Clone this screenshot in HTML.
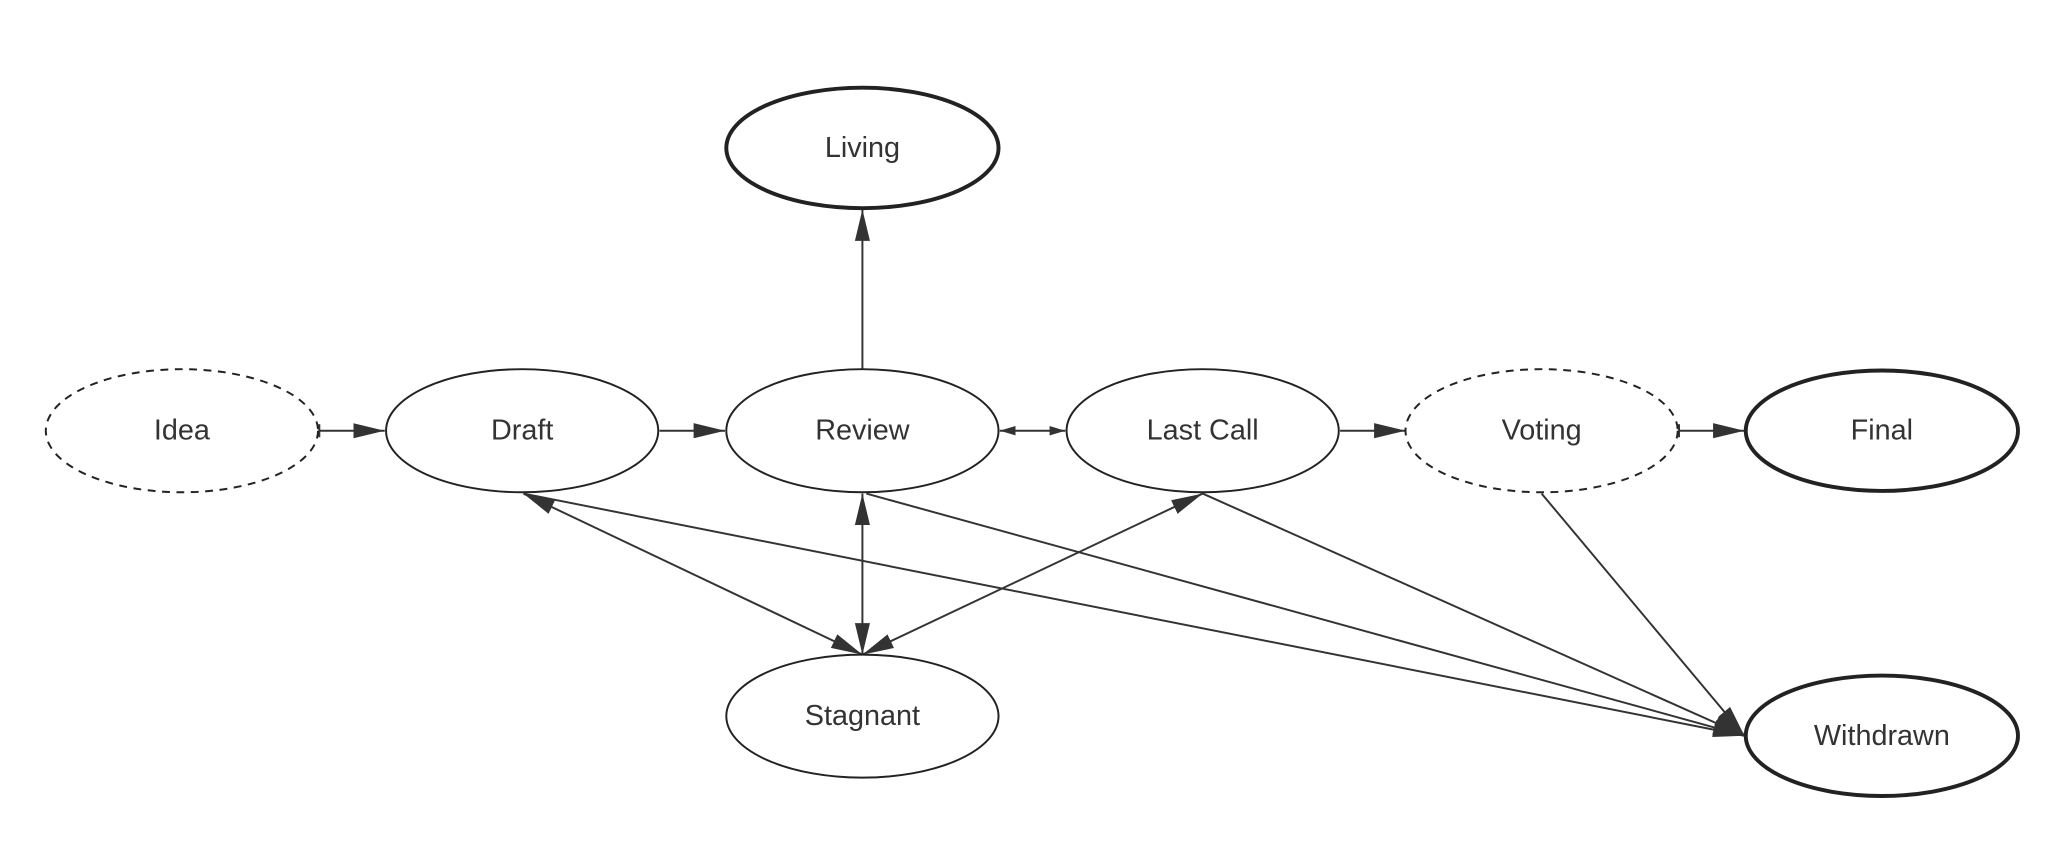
<!DOCTYPE html>
<html><head><meta charset="utf-8"><style>
html,body{margin:0;padding:0;background:#fff;}
svg{display:block;}
text{font-family:"Liberation Sans",sans-serif;font-size:22px;fill:#333;text-anchor:middle;dominant-baseline:central;}
</style></head><body>
<svg width="2052" height="868" viewBox="0 0 1568 663" preserveAspectRatio="none" xmlns="http://www.w3.org/2000/svg">
<defs>
<marker id="a" viewBox="0 0 10 10" refX="10" refY="5" markerWidth="24" markerHeight="24" markerUnits="userSpaceOnUse" orient="auto-start-reverse"><path d="M0,2.6 L10,5 L0,7.4 z" fill="#333"/></marker>
<marker id="s" viewBox="0 0 10 10" refX="10" refY="5" markerWidth="12" markerHeight="12" markerUnits="userSpaceOnUse" orient="auto-start-reverse"><path d="M0,2 L10,5 L0,8 z" fill="#333"/></marker>
<marker id="t" viewBox="0 0 4 10" refX="2" refY="5" markerWidth="4" markerHeight="10" markerUnits="userSpaceOnUse" orient="auto"><path d="M2,0 L2,10" stroke="#333" stroke-width="1.5"/></marker>
</defs>
<g stroke="#333" stroke-width="1.5" fill="none">
<line x1="244" y1="329" x2="294" y2="329" marker-start="url(#t)" marker-end="url(#a)"/>
<line x1="504" y1="329" x2="554" y2="329" marker-end="url(#a)"/>
<line x1="764" y1="329" x2="814" y2="329" marker-start="url(#s)" marker-end="url(#s)"/>
<line x1="1024" y1="329" x2="1074" y2="329" marker-end="url(#a)"/>
<line x1="1283" y1="329" x2="1333" y2="329" marker-start="url(#t)" marker-end="url(#a)"/>
<line x1="659" y1="283" x2="659" y2="160" marker-end="url(#a)"/>
<line x1="400" y1="377" x2="659" y2="500" marker-start="url(#a)" marker-end="url(#a)"/>
<line x1="659" y1="377" x2="659" y2="500" marker-start="url(#a)" marker-end="url(#a)"/>
<line x1="919" y1="377" x2="659" y2="500" marker-start="url(#a)" marker-end="url(#a)"/>
<line x1="400" y1="377" x2="1333" y2="562" marker-end="url(#a)"/>
<line x1="662" y1="377" x2="1333" y2="562" marker-end="url(#a)"/>
<line x1="919" y1="377" x2="1333" y2="562" marker-end="url(#a)"/>
<line x1="1178" y1="377" x2="1333" y2="562" marker-end="url(#a)"/>
</g>
<g fill="#fff" stroke="#222">
<ellipse cx="139" cy="329" rx="104" ry="47" stroke-width="1.5" stroke-dasharray="6,5"/>
<ellipse cx="399" cy="329" rx="104" ry="47" stroke-width="1.5"/>
<ellipse cx="659" cy="329" rx="104" ry="47" stroke-width="1.5"/>
<ellipse cx="919" cy="329" rx="104" ry="47" stroke-width="1.5"/>
<ellipse cx="1178" cy="329" rx="104" ry="47" stroke-width="1.5" stroke-dasharray="6,5"/>
<ellipse cx="1438" cy="329" rx="104" ry="46" stroke-width="3"/>
<ellipse cx="659" cy="113" rx="104" ry="46" stroke-width="3"/>
<ellipse cx="659" cy="547" rx="104" ry="47" stroke-width="1.5"/>
<ellipse cx="1438" cy="562" rx="104" ry="46" stroke-width="3"/>
</g>
<text x="139" y="329">Idea</text>
<text x="399" y="329">Draft</text>
<text x="659" y="329">Review</text>
<text x="919" y="329">Last Call</text>
<text x="1178" y="329">Voting</text>
<text x="1438" y="329">Final</text>
<text x="659" y="113">Living</text>
<text x="659" y="547">Stagnant</text>
<text x="1438" y="562">Withdrawn</text>
</svg>
</body></html>
